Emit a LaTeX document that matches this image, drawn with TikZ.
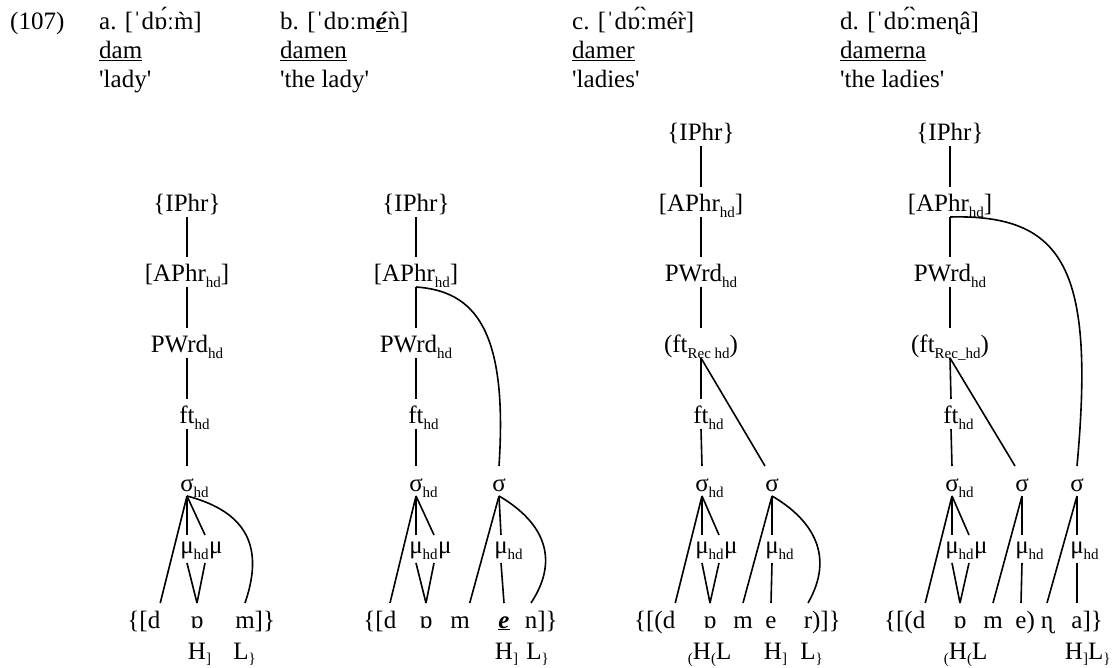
\documentclass[tikz,border=0pt]{standalone}
\usepackage{fontspec}
\setmainfont{Liberation Serif}
\newcommand\hsub[1]{\raisebox{-6pt}{\fontsize{15}{15}\selectfont #1}}
\newcommand\tsub[1]{\raisebox{-4pt}{\fontsize{15}{15}\selectfont #1}}
\newcommand\sq{\textquotesingle}
\tikzset{
  every node/.style={font=\fontsize{25}{30}\selectfont},
  lv/.style={anchor=base, inner sep=0pt, outer sep=0pt, text height=25pt, text depth=5pt},
  mu/.style={anchor=base, inner sep=0pt, outer sep=0pt, text height=18pt, text depth=10pt},
  sg/.style={anchor=base, inner sep=0pt, outer sep=0pt, text height=25pt, text depth=0pt},
  hdr/.style={anchor=base west, inner sep=0pt},
  ln/.style={line width=1.6pt},
}
\begin{document}
\begin{tikzpicture}[x=1pt,y=-1pt]
\useasboundingbox (0,0) rectangle (1112,668);
% headers
\node[hdr] (num) at (10,30) {(107)};
\node[hdr] (ha) at (99,30) {a. [ˈdɒ́ːm̀]};
\node[hdr] (hb) at (280,30) {b. [ˈdɒːm\underline{\textbf{\textit{é}}}ǹ]};
\node[hdr] (hc) at (572,30) {c. [ˈdɒ́ː̀mér̀]};
\node[hdr] (hd) at (840,30) {d. [ˈdɒ́ː̀meɳâ]};
\node[hdr] (wa) at (99,59) {\underline{dam}};
\node[hdr] (wb) at (280,59) {\underline{damen}};
\node[hdr] (wc) at (572,59) {\underline{damer}};
\node[hdr] (wd) at (840,59) {\underline{damerna}};
\node[hdr] (ga) at (99,88) {\sq lady\sq};
\node[hdr] (gb) at (280,88) {\sq the lady\sq};
\node[hdr] (gc) at (572,88) {\sq ladies\sq};
\node[hdr] (gd) at (840,88) {\sq the ladies\sq};

% ---------- tree a ----------
\node[lv] (aI) at (187,212) {\{IPhr\}};
\node[lv] (aA) at (187,282) {[APhr\hsub{hd}]};
\node[lv] (aP) at (187,353) {PWrd\hsub{hd}};
\node[lv] (aF) at (187,424) {ft\rlap{\hsub{hd}}};
\node[lv] (aS) at (187,491) {σ\rlap{\hsub{hd}}};
\node[mu] (aM1) at (187,553) {μ\rlap{\hsub{hd}}};
\node[mu,anchor=base west] (aM2) at (209,553) {μ};
\node[sg] (ad) at (154,628) {\llap{\{[}d};
\node[sg] (ao) at (197,628) {ɒ};
\node[sg] (am) at (245,628) {m\rlap{]\}}};
\node[sg] (aH) at (197,659) {H\rlap{\tsub{]}}};
\node[sg] (aL) at (241,659) {L\rlap{\tsub{\}}}};
\draw[ln] (aI.south) -- (aA.north);
\draw[ln] (aA.south) -- (aP.north);
\draw[ln] (aP.south) -- (aF.north);
\draw[ln] (aF.south) -- (aS.north);
\draw[ln] (aS.south) -- (ad.north east);
\draw[ln] (aS.south) -- (aM1.north);
\draw[ln] (aS.south) -- ([xshift=18]aM1.north);
\draw[ln] (aM1.south) -- (ao.north);
\draw[ln] ([xshift=18]aM1.south) -- (ao.north);
\draw[ln] (aS.south) .. controls (248,512) and (264,548) .. (am.north);

% ---------- tree b ----------
\node[lv] (bI) at (416,212) {\{IPhr\}};
\node[lv] (bA) at (416,282) {[APhr\hsub{hd}]};
\node[lv] (bP) at (416,353) {PWrd\hsub{hd}};
\node[lv] (bF) at (416,424) {ft\rlap{\hsub{hd}}};
\node[lv] (bS) at (416,491) {σ\rlap{\hsub{hd}}};
\node[lv] (bS2) at (499,491) {σ};
\node[mu] (bM1) at (416,553) {μ\rlap{\hsub{hd}}};
\node[mu,anchor=base west] (bM2) at (438,553) {μ};
\node[mu] (bM3) at (501,553) {μ\rlap{\hsub{hd}}};
\node[sg] (bd) at (390,628) {\llap{\{[}d};
\node[sg] (bo) at (426,628) {ɒ};
\node[sg] (bm) at (460,628) {m};
\node[sg] (be) at (504,628) {\underline{\textbf{\textit{e}}}};
\node[sg] (bn) at (531,628) {n\rlap{]\}}};
\node[sg] (bH) at (504,659) {H\rlap{\tsub{]}}};
\node[sg] (bL) at (534,659) {L\rlap{\tsub{\}}}};
\draw[ln] (bI.south) -- (bA.north);
\draw[ln] (bA.south) -- (bP.north);
\draw[ln] (bP.south) -- (bF.north);
\draw[ln] (bF.south) -- (bS.north);
\draw[ln] (bA.south) .. controls (475,291) and (508,330) .. (bS2.north);
\draw[ln] (bS.south) -- (bd.north);
\draw[ln] (bS.south) -- (bM1.north);
\draw[ln] (bS.south) -- ([xshift=18]bM1.north);
\draw[ln] (bM1.south) -- (bo.north);
\draw[ln] ([xshift=18]bM1.south) -- (bo.north);
\draw[ln] (bS2.south) -- (bm.north east);
\draw[ln] (bS2.south) -- (bM3.north);
\draw[ln] (bS2.south) .. controls (540,520) and (562,556) .. (bn.north);
\draw[ln] (bM3.south) -- (be.north);

% ---------- tree c ----------
\node[lv] (cI) at (701,141) {\{IPhr\}};
\node[lv] (cA) at (701,212) {[APhr\hsub{hd}]};
\node[lv] (cP) at (701,282) {PWrd\hsub{hd}};
\node[lv] (cR) at (701,353) {(ft\hsub{Rec hd})};
\node[lv] (cF) at (701,424) {ft\rlap{\hsub{hd}}};
\node[lv] (cS) at (702,491) {σ\rlap{\hsub{hd}}};
\node[lv] (cS2) at (772,491) {σ};
\node[mu] (cM1) at (702,553) {μ\rlap{\hsub{hd}}};
\node[mu,anchor=base west] (cM2) at (724,553) {μ};
\node[mu] (cM3) at (772,553) {μ\rlap{\hsub{hd}}};
\node[sg] (cd) at (669,628) {\llap{\{[(}d};
\node[sg] (co) at (710,628) {ɒ};
\node[sg] (cm) at (743,628) {m};
\node[sg] (ce) at (771,628) {e};
\node[sg] (cr) at (808,628) {r\rlap{)]\}}};
\node[sg] (cH) at (702,659) {\llap{\tsub{(}}H\rlap{\tsub{(}L}};
\node[sg] (cH2) at (773,659) {H\rlap{\tsub{]}}};
\node[sg] (cL) at (808,659) {L\rlap{\tsub{\}}}};
\draw[ln] (cI.south) -- (cA.north);
\draw[ln] (cA.south) -- (cP.north);
\draw[ln] (cP.south) -- (cR.north);
\draw[ln] (cR.south) -- (cF.north);
\draw[ln] (cF.south) -- (cS.north);
\draw[ln] (cR.south) -- ([xshift=-7]cS2.north);
\draw[ln] (cS.south) -- (cd.north east);
\draw[ln] (cS.south) -- (cM1.north);
\draw[ln] (cS.south) -- ([xshift=17]cM1.north);
\draw[ln] (cM1.south) -- (co.north);
\draw[ln] ([xshift=17]cM1.south) -- (co.north);
\draw[ln] (cS2.south) -- (cm.north);
\draw[ln] (cS2.south) -- (cM3.north);
\draw[ln] (cS2.south) .. controls (813,520) and (835,556) .. (cr.north);
\draw[ln] (cM3.south) -- (ce.north);

% ---------- tree d ----------
\node[lv] (dI) at (950,141) {\{IPhr\}};
\node[lv] (dA) at (950,212) {[APhr\hsub{hd}]};
\node[lv] (dP) at (950,282) {PWrd\hsub{hd}};
\node[lv] (dR) at (950,353) {(ft\hsub{Rec\_hd})};
\node[lv] (dF) at (951,424) {ft\rlap{\hsub{hd}}};
\node[lv] (dS) at (952,491) {σ\rlap{\hsub{hd}}};
\node[lv] (dS2) at (1022,491) {σ};
\node[lv] (dS3) at (1077,491) {σ};
\node[mu] (dM1) at (952,553) {μ\rlap{\hsub{hd}}};
\node[mu,anchor=base west] (dM2) at (974,553) {μ};
\node[mu] (dM3) at (1022,553) {μ\rlap{\hsub{hd}}};
\node[mu] (dM4) at (1077,553) {μ\rlap{\hsub{hd}}};
\node[sg] (dd) at (919,628) {\llap{\{[(}d};
\node[sg] (do) at (960,628) {ɒ};
\node[sg] (dm) at (993,628) {m};
\node[sg] (de) at (1021,628) {e\rlap{)}};
\node[sg] (dn) at (1047,628) {ɳ};
\node[sg] (da) at (1077,628) {a\rlap{]\}}};
\node[sg] (dH) at (958,659) {\llap{\tsub{(}}H\rlap{\tsub{(}L}};
\node[sg] (dH2) at (1074,659) {H\rlap{\tsub{]}L\tsub{\}}}};
\draw[ln] (dI.south) -- (dA.north);
\draw[ln] (dA.south) -- (dP.north);
\draw[ln] (dP.south) -- (dR.north);
\draw[ln] (dR.south) -- (dF.north);
\draw[ln] (dF.south) -- (dS.north);
\draw[ln] (dA.south) .. controls (1065,214) and (1095,270) .. (dS3.north);
\draw[ln] (dR.south) -- ([xshift=-7]dS2.north);
\draw[ln] (dS.south) -- (dd.north east);
\draw[ln] (dS.south) -- (dM1.north);
\draw[ln] (dS.south) -- ([xshift=17]dM1.north);
\draw[ln] (dM1.south) -- (do.north);
\draw[ln] ([xshift=17]dM1.south) -- (do.north);
\draw[ln] (dS2.south) -- (dm.north);
\draw[ln] (dS2.south) -- (dM3.north);
\draw[ln] (dM3.south) -- (de.north);
\draw[ln] (dS3.south) -- (dn.north);
\draw[ln] (dS3.south) -- (dM4.north);
\draw[ln] (dM4.south) -- (da.north);
\end{tikzpicture}
\end{document}
